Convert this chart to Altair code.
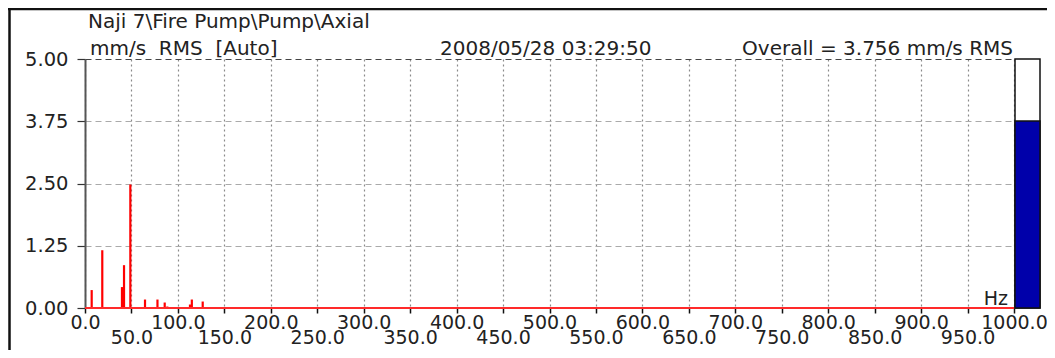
import altair as alt
import pandas as pd

# ---- data ----
peak_hz = [7.2, 18.6, 39.8, 42.0, 48.8, 64.6, 78.0, 85.8, 88.6, 113.0, 115.0, 126.7]
peak_amp = [0.36, 1.16, 0.42, 0.86, 2.48, 0.17, 0.17, 0.11, 0.03, 0.07, 0.17, 0.13]
overall_value = [3.756]
gauge_max = [5.0]
freq_range = [0.0, 1000.0]
x_ticks = [float(v) for v in range(0, 1001, 50)]
y_ticks = [0.0, 1.25, 2.5, 3.75, 5.0]

NB = "\u00a0"
title_text = "Naji 7\\Fire Pump\\Pump\\Axial"
units_text = "mm/s" + NB + NB + "RMS" + NB + NB + "[Auto]"
date_text = "2008/05/28 03:29:50"
overall_text = "Overall = 3.756 mm/s RMS"
hz_text = "Hz"

FONT = "DejaVu Sans"
TXT = "#222222"
W, H = 929, 249

spec_df = pd.DataFrame({"hz": peak_hz, "amp": peak_amp, "zero": [0.0] * len(peak_hz)})
base_df = pd.DataFrame({"x0": [freq_range[0]], "x1": [freq_range[1]], "y": [0.0]})
gauge_df = pd.DataFrame({"top": gauge_max, "val": overall_value, "zero": [0.0]})

xscale = alt.Scale(domain=freq_range, nice=False, zero=False)
yscale = alt.Scale(domain=[0, 5], nice=False)

xaxis = alt.Axis(
    values=x_ticks,
    labelExpr="format(datum.value, '.1f')",
    labelFont=FONT, labelFontSize=19, labelColor=TXT,
    labelOverlap=False, labelFlush=False, labelBound=False,
    labelBaseline="top",
    labelPadding={"condition": {"test": "datum.value % 100 === 0", "value": 0}, "value": 15},
    tickColor="#111111", tickSize=5, tickWidth=1.5,
    domain=False,
    grid=True, gridColor="#8a8a8a", gridDash=[2, 3], gridWidth=1.2,
    title=None,
)
yaxis = alt.Axis(
    values=y_ticks, format=".2f",
    labelFont=FONT, labelFontSize=19.5, labelColor=TXT,
    labelPadding=9, tickSize=8, tickColor="#333333", tickWidth=1.2,
    domainColor="#555555", domainWidth=2,
    grid=True,
    gridColor={"condition": {"test": "datum.value === 5", "value": "#444444"}, "value": "#aaaaaa"},
    gridDash=[6, 4], gridWidth=1.2,
    title=None,
)

spectrum = alt.Chart(spec_df).mark_rule(color="#ff0000", strokeWidth=2.2).encode(
    x=alt.X("hz:Q", scale=xscale, axis=xaxis),
    y=alt.Y("amp:Q", scale=yscale, axis=yaxis),
    y2="zero:Q",
)

baseline = alt.Chart(base_df).mark_rule(color="#ff2a2a", strokeWidth=2).encode(
    x="x0:Q", x2="x1:Q", y="y:Q"
)

gauge_frame = alt.Chart(gauge_df).mark_rect(fill="white", stroke="#111111", strokeWidth=1.5).encode(
    x=alt.value(930), x2=alt.value(955), y="top:Q", y2="zero:Q"
)
gauge_fill = alt.Chart(gauge_df).mark_rect(fill="#0000aa", stroke="#111111", strokeWidth=1.5).encode(
    x=alt.value(930), x2=alt.value(955), y="val:Q", y2="zero:Q"
)


def label(text, x, y, align="left", baseline="alphabetic", size=20):
    return alt.Chart(pd.DataFrame({"t": [text]})).mark_text(
        align=align, baseline=baseline, font=FONT, fontSize=size, color=TXT
    ).encode(text="t:N", x=alt.value(x), y=alt.value(y))


t_title = label(title_text, 3, -31)
t_units = label(units_text, 5, -4)
t_date = label(date_text, 355, -4)
t_overall = label(overall_text, 928, -4, align="right")
t_hz = label(hz_text, 923, 246, align="right", size=19)

frame_top = alt.Chart(base_df).mark_rule(color="#111111", strokeWidth=2.5).encode(
    x=alt.value(-77), x2=alt.value(962), y=alt.value(-50)
)
frame_left = alt.Chart(base_df).mark_rule(color="#111111", strokeWidth=2.5).encode(
    x=alt.value(-75.5), y=alt.value(-51), y2=alt.value(300)
)

chart = alt.layer(
    spectrum, baseline, gauge_frame, gauge_fill,
    t_title, t_units, t_date, t_overall, t_hz, frame_top, frame_left,
).properties(
    width=W, height=H,
    autosize=alt.AutoSizeParams(type="none"),
    padding={"left": 77, "top": 51, "right": 33, "bottom": 42},
    background="white",
).configure_view(stroke=None)

chart.save("out.html", embed_options={"renderer": "svg", "actions": False})
